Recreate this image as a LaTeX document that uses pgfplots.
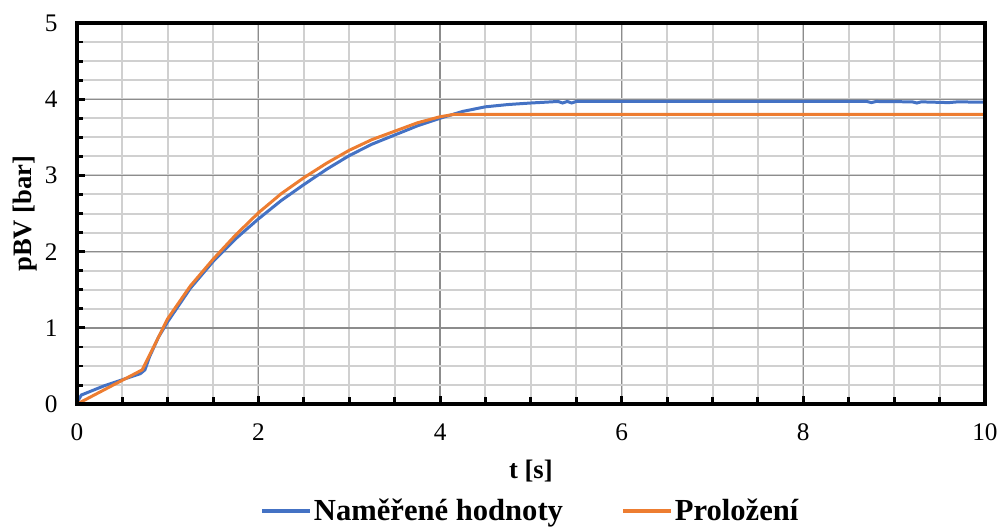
\documentclass[border=0pt]{standalone}
\usepackage{pgfplots}
\pgfplotsset{compat=1.18}
\usepackage{fontspec}
\setmainfont{Liberation Serif}
\definecolor{cblue}{HTML}{4472C4}
\definecolor{corange}{HTML}{ED7D31}
\definecolor{majgrid}{HTML}{8C8C8C}
\definecolor{mingrid}{HTML}{D0D0D0}
\begin{document}
\begin{tikzpicture}
\begin{axis}[
  scale only axis,
  width=682.5pt, height=286.5pt,
  xmin=0, xmax=10, ymin=0, ymax=5,
  xtick={0,2,...,10}, ytick={0,1,...,5},
  minor xtick={0.5,1,...,9.5},
  minor ytick={0.25,0.5,...,4.75},
  grid=both,
  major grid style={majgrid, line width=1pt},
  minor grid style={mingrid, line width=1.5pt},
  axis line style={black, line width=2.5pt},
  tick align=inside,
  xtick pos=bottom, ytick pos=left,
  major tick length=6pt, minor tick length=5pt,
  tick style={black, line width=2.2pt},
  /pgf/number format/assume math mode=true,
  tick label style={font=\fontsize{19}{21}\selectfont},
  xticklabel style={yshift=-11pt},
  yticklabel style={xshift=-11pt},
  xlabel={\bfseries t [s]},
  ylabel={\bfseries pBV [bar]},
  label style={font=\fontsize{20}{22}\selectfont},
  xlabel style={at={(axis description cs:0.5,-0.175)}, anchor=center},
  ylabel style={at={(axis description cs:-0.057,0.5)}, anchor=center},
  legend style={at={(axis description cs:0.5,-0.235)}, anchor=north, draw=none,
    legend columns=2, font=\fontsize{23}{25}\selectfont\bfseries,
    /tikz/every even column/.append style={column sep=42pt}},
  legend image code/.code={\draw[#1, line width=2.5pt] (0,0) -- (1.25cm,0);},
  after end axis/.code={\draw[black, line width=2.8pt] (rel axis cs:0,0) rectangle (rel axis cs:1,1);},
]
\addplot[cblue, line width=2.25pt] coordinates {
(0,0.02) (0.05,0.12) (0.3,0.24) (0.7,0.40) (0.75,0.45) (0.8,0.62) (0.9,0.88) (1.0,1.08)
(1.25,1.52) (1.5,1.87) (1.75,2.17) (2.0,2.43) (2.25,2.67) (2.5,2.88) (2.75,3.08)
(3.0,3.26) (3.25,3.41) (3.5,3.53) (3.75,3.65) (4.0,3.75) (4.25,3.84) (4.5,3.90)
(4.75,3.93) (5.0,3.95) (5.3,3.97) (5.35,3.95) (5.4,3.97) (5.45,3.95) (5.5,3.97)
(8.7,3.97) (8.75,3.955) (8.8,3.97) (9.2,3.965) (9.25,3.95) (9.3,3.965) (9.6,3.955) (9.7,3.965) (10,3.96)
};
\addlegendentry{Naměřené hodnoty}
\addplot[corange, line width=2.25pt] coordinates {
(0,0) (0.72,0.45) (1.0,1.12) (1.25,1.55) (1.5,1.90) (1.75,2.22) (2.0,2.51)
(2.25,2.76) (2.5,2.97) (2.75,3.16) (3.0,3.33) (3.25,3.47) (3.5,3.58) (3.75,3.69)
(4.0,3.77) (4.15,3.80) (10,3.80)
};
\addlegendentry{Proložení}
\end{axis}
\path[use as bounding box] (current axis.south west) ++(-57.75pt,-90pt) rectangle ([xshift=11.25pt,yshift=17.25pt]current axis.north east);
\end{tikzpicture}
\end{document}
